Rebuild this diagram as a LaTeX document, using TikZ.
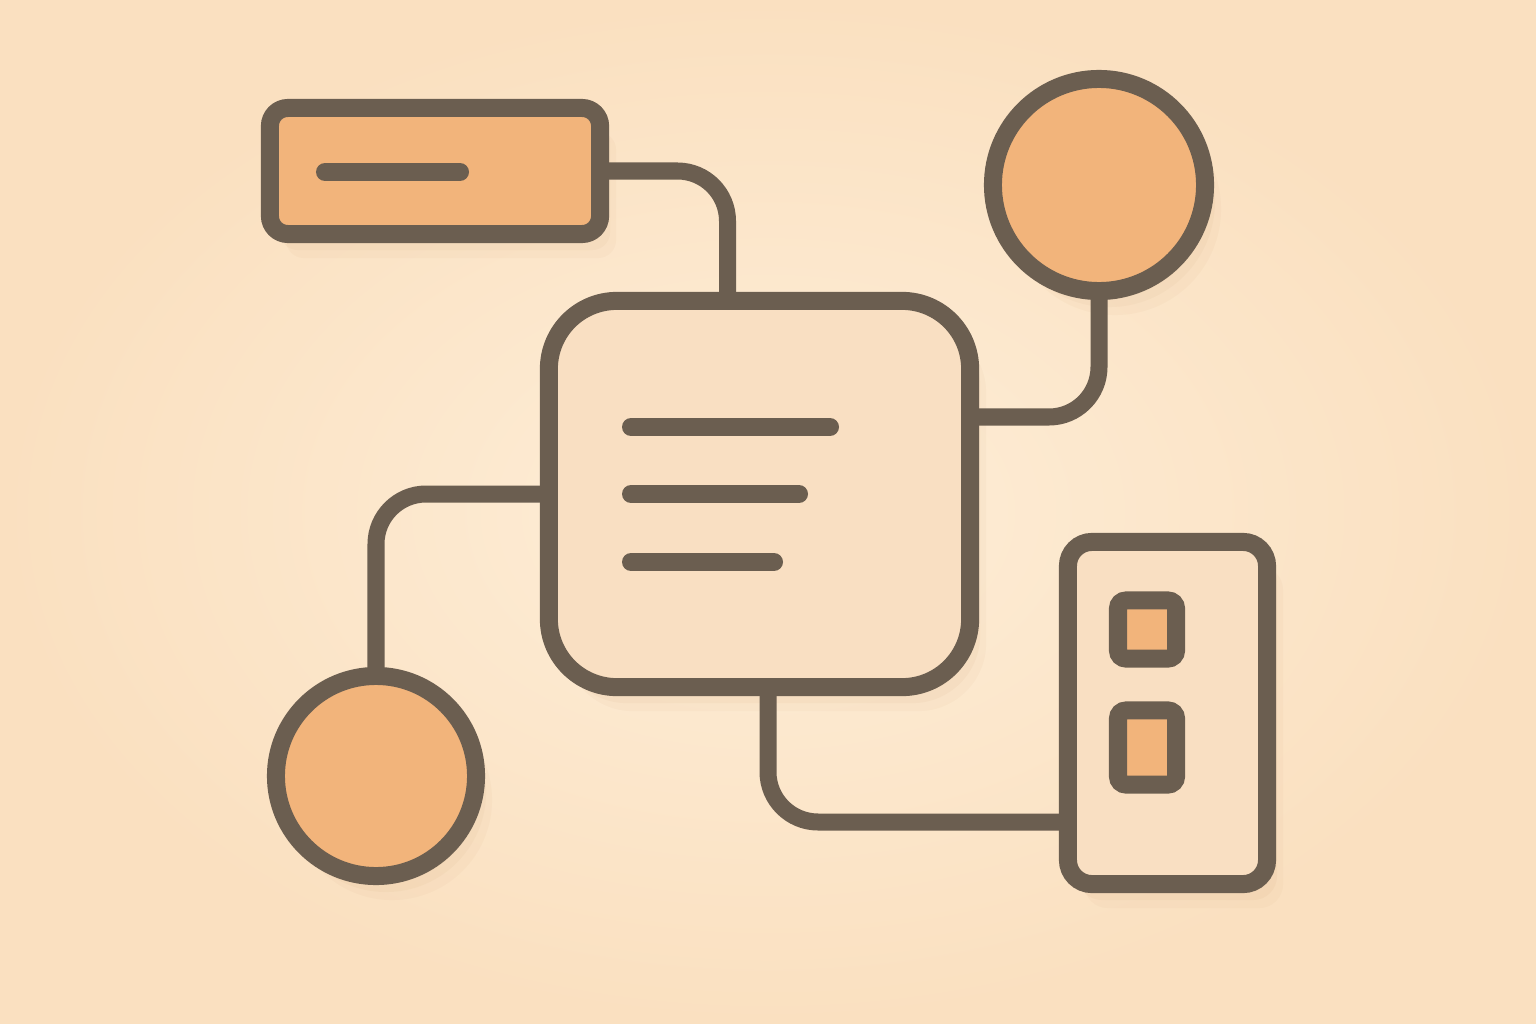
\documentclass[tikz,border=0pt]{standalone}
\usepackage{xcolor}
\usepackage{tikz}
\usetikzlibrary{shapes,positioning,calc,shadows}

\definecolor{ink}{HTML}{6B5E50}
\definecolor{peach}{HTML}{F2B47B}
\definecolor{cream}{HTML}{F9DFC2}
\definecolor{bgin}{HTML}{FEEED8}
\definecolor{bgout}{HTML}{FAE0C0}
\definecolor{shade}{HTML}{B07A45}

\tikzset{
  softshadow/.style={
    drop shadow={shadow xshift=.05cm, shadow yshift=-.08cm, opacity=.07, fill=shade},
    drop shadow={shadow xshift=.10cm, shadow yshift=-.16cm, opacity=.05, fill=shade},
    drop shadow={shadow xshift=.16cm, shadow yshift=-.24cm, opacity=.04, fill=shade}},
  block/.style={rectangle, draw=ink, line width=.18cm, inner sep=0pt, outer sep=0pt, softshadow},
  dot/.style={circle, draw=ink, line width=.18cm, fill=peach, inner sep=0pt, outer sep=0pt, softshadow},
  wire/.style={draw=ink, line width=.17cm, rounded corners=5mm},
  bar/.style={draw=ink, line width=.18cm, line cap=round}
}

\begin{document}
\begin{tikzpicture}[x=0.01cm, y=-0.01cm]
    % background
    \shade[inner color=bgin, outer color=bgout] (0,0) rectangle (1536,1024);
    \useasboundingbox (0,0) rectangle (1536,1024);

    \node (tlbox) [block, fill=peach, minimum width=3.3cm, minimum height=1.26cm, rounded corners=1.8mm] at (435,171) {};
    \node (trdot) [dot, minimum size=2.12cm] at (1099,185) {};
    \node (mainbox) [block, fill=cream, minimum width=4.21cm, minimum height=3.86cm, rounded corners=6.8mm] at (759.5,494) {};
    \node (bldot) [dot, minimum size=2.0cm] at (376,776) {};
    \node (rbbox) [block, fill=cream, minimum width=1.99cm, minimum height=3.42cm, rounded corners=2.4mm] at (1167.5,713) {};
    \node (slota) [rectangle, draw=ink, line width=.18cm, fill=peach, minimum width=.58cm, minimum height=.58cm, rounded corners=.8mm] at (1147,629.5) {};
    \node (slotb) [rectangle, draw=ink, line width=.18cm, fill=peach, minimum width=.58cm, minimum height=.74cm, rounded corners=.8mm] at (1147,747.5) {};

    % text bars
    \draw [bar] (325,172) -- (460,172);
    \draw [bar] (631,427) -- (830,427);
    \draw [bar] (631,494) -- (799,494);
    \draw [bar] (631,562) -- (774,562);

    % links
    \draw [wire] (tlbox.east) -| ($(mainbox.north)+(-32,0)$);
    \draw [wire] (trdot.south) |- ($(mainbox.east)+(0,-77)$);
    \draw [wire] (mainbox.west) -| (bldot.north);
    \draw [wire] ($(mainbox.south)+(8.5,0)$) |- ($(rbbox.west)+(0,109)$);
\end{tikzpicture}
\end{document}
